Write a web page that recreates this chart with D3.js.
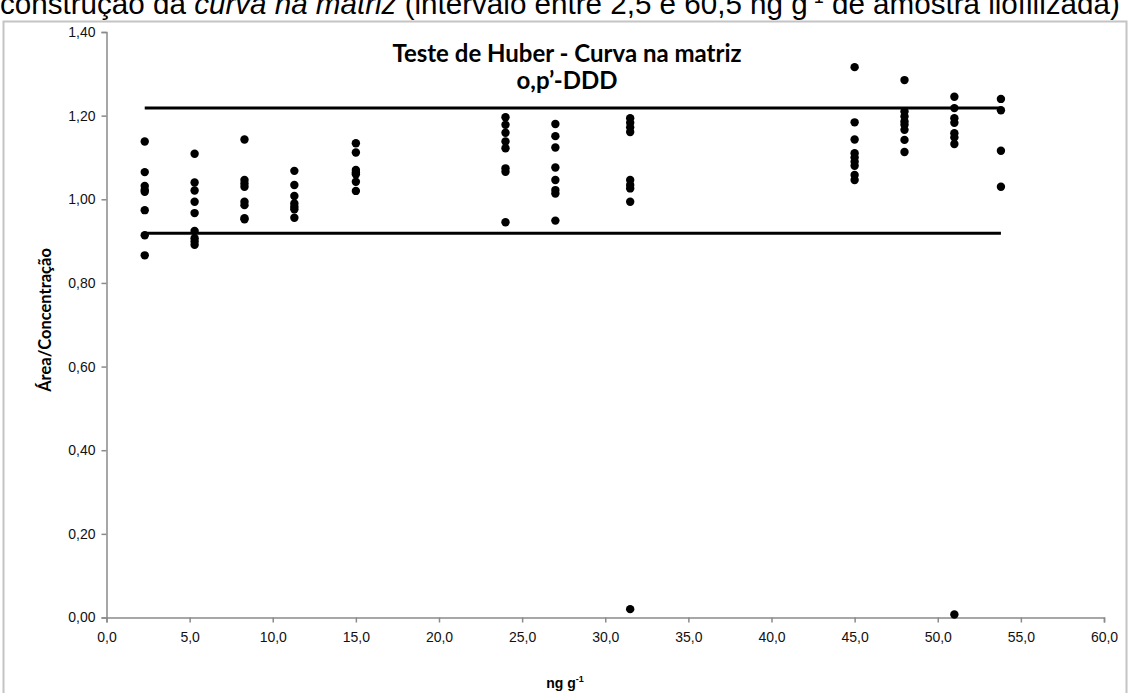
<!DOCTYPE html>
<html>
<head>
<meta charset="utf-8">
<script src="https://cdn.jsdelivr.net/npm/d3@7"></script>
<style>
  html, body { margin: 0; padding: 0; background: #fff; }
  svg { display: block; }
</style>
</head>
<body>
<svg id="chart" width="1130" height="693"></svg>
<script>
// ---- data ----
const concentrations = [2.3, 5.3, 8.3, 11.3, 15.0, 24.0, 27.0, 31.5, 45.0, 48.0, 51.0, 53.8];
const ratios = [
  [1.138, 1.065, 1.032, 1.022, 1.018, 0.974, 0.914, 0.866],
  [1.109, 1.040, 1.021, 0.994, 0.967, 0.924, 0.907, 0.899, 0.891],
  [1.143, 1.046, 1.038, 1.030, 0.994, 0.986, 0.955, 0.952],
  [1.068, 1.034, 1.008, 0.990, 0.982, 0.976, 0.956],
  [1.134, 1.112, 1.070, 1.064, 1.060, 1.042, 1.020],
  [1.196, 1.178, 1.159, 1.138, 1.122, 1.074, 1.066, 0.945],
  [1.180, 1.151, 1.124, 1.076, 1.046, 1.022, 1.014, 0.949],
  [1.194, 1.183, 1.172, 1.161, 1.046, 1.034, 1.026, 0.994, 0.020],
  [1.316, 1.184, 1.143, 1.110, 1.100, 1.090, 1.080, 1.058, 1.046],
  [1.285, 1.210, 1.198, 1.186, 1.178, 1.166, 1.142, 1.113],
  [1.245, 1.218, 1.194, 1.183, 1.158, 1.148, 1.132, 0.007],
  [1.240, 1.213, 1.116, 1.030]
];
const huberLimits = [0.919, 1.218];
const limitRange = [2.3, 53.8];
const xTicks = [0, 5, 10, 15, 20, 25, 30, 35, 40, 45, 50, 55, 60];
const yTicks = [0, 0.2, 0.4, 0.6, 0.8, 1.0, 1.2, 1.4];
const titleLines = ["Teste de Huber - Curva na matriz", "o,p’-DDD"];
const yTitle = "Área/Concentração";

// ---- layout ----
const svg = d3.select("#chart");
const x = d3.scaleLinear().domain([0, 60]).range([106.5, 1104]);
const y = d3.scaleLinear().domain([0, 1.4]).range([617.5, 32]);
const comma = (f) => (v) => d3.format(f)(v).replace(".", ",");

// caption (cut off at top, as in the source page)
const cap = svg.append("text")
  .attr("x", 0).attr("y", 14)
  .attr("font-family", "Liberation Sans, Arial, sans-serif")
  .attr("font-size", 29.6).attr("fill", "#000");
cap.append("tspan").text("construção da ");
cap.append("tspan").attr("font-style", "italic").text("curva na matriz");
cap.append("tspan").text(" (intervalo entre 2,5 e 60,5 ng g");
cap.append("tspan").attr("font-size", 18).attr("dy", -11).text("-1");
cap.append("tspan").attr("dy", 11).text(" de amostra liofilizada)");

// frame
svg.append("rect")
  .attr("x", 3.5).attr("y", 21.5).attr("width", 1123).attr("height", 700)
  .attr("fill", "none").attr("stroke", "#c4c4c4").attr("stroke-width", 2);

// axes
const axisColor = "#8a8a8a";
const gy = svg.append("g").attr("transform", `translate(${x(0)},0)`)
  .call(d3.axisLeft(y).tickValues(yTicks).tickSize(5).tickPadding(6).tickFormat(comma(".2f")));
const gx = svg.append("g").attr("transform", `translate(0,${y(0)})`)
  .call(d3.axisBottom(x).tickValues(xTicks).tickSize(5).tickPadding(10).tickFormat(comma(".1f")));
[gx, gy].forEach(g => {
  g.selectAll("path, line").attr("stroke", axisColor).attr("stroke-width", 1.5);
  g.selectAll("text").attr("font-family", "Liberation Sans, Arial, sans-serif")
    .attr("font-size", 14).attr("fill", "#111");
});

// Huber limit lines
svg.append("g").selectAll("line").data(huberLimits).join("line")
  .attr("x1", x(limitRange[0])).attr("x2", x(limitRange[1]))
  .attr("y1", d => y(d)).attr("y2", d => y(d))
  .attr("stroke", "#000").attr("stroke-width", 3);

// points
const pts = concentrations.flatMap((c, i) => ratios[i].map(v => ({ c, v })));
svg.append("g").selectAll("circle").data(pts).join("circle")
  .attr("cx", d => x(d.c)).attr("cy", d => y(d.v)).attr("r", 4.2)
  .attr("fill", "#000");

// title
svg.append("g").selectAll("text").data(titleLines).join("text")
  .attr("x", 567).attr("y", (d, i) => 62 + i * 27)
  .attr("text-anchor", "middle")
  .attr("font-family", "Lato, Carlito, sans-serif").attr("font-weight", "bold")
  .attr("font-size", 24).attr("fill", "#000")
  .text(d => d);

// y-axis title
svg.append("text")
  .attr("transform", "translate(51,320) rotate(-90)")
  .attr("text-anchor", "middle")
  .attr("font-family", "Lato, Carlito, sans-serif").attr("font-weight", "bold")
  .attr("font-size", 16.5).attr("fill", "#000")
  .text(yTitle);

// x-axis title
const xt = svg.append("text")
  .attr("x", 565).attr("y", 688).attr("text-anchor", "middle")
  .attr("font-family", "Liberation Sans, Arial, sans-serif").attr("font-weight", "bold")
  .attr("font-size", 14).attr("fill", "#000");
xt.append("tspan").text("ng g");
xt.append("tspan").attr("font-size", 9).attr("dy", -6).text("-1");
</script>
</body>
</html>
